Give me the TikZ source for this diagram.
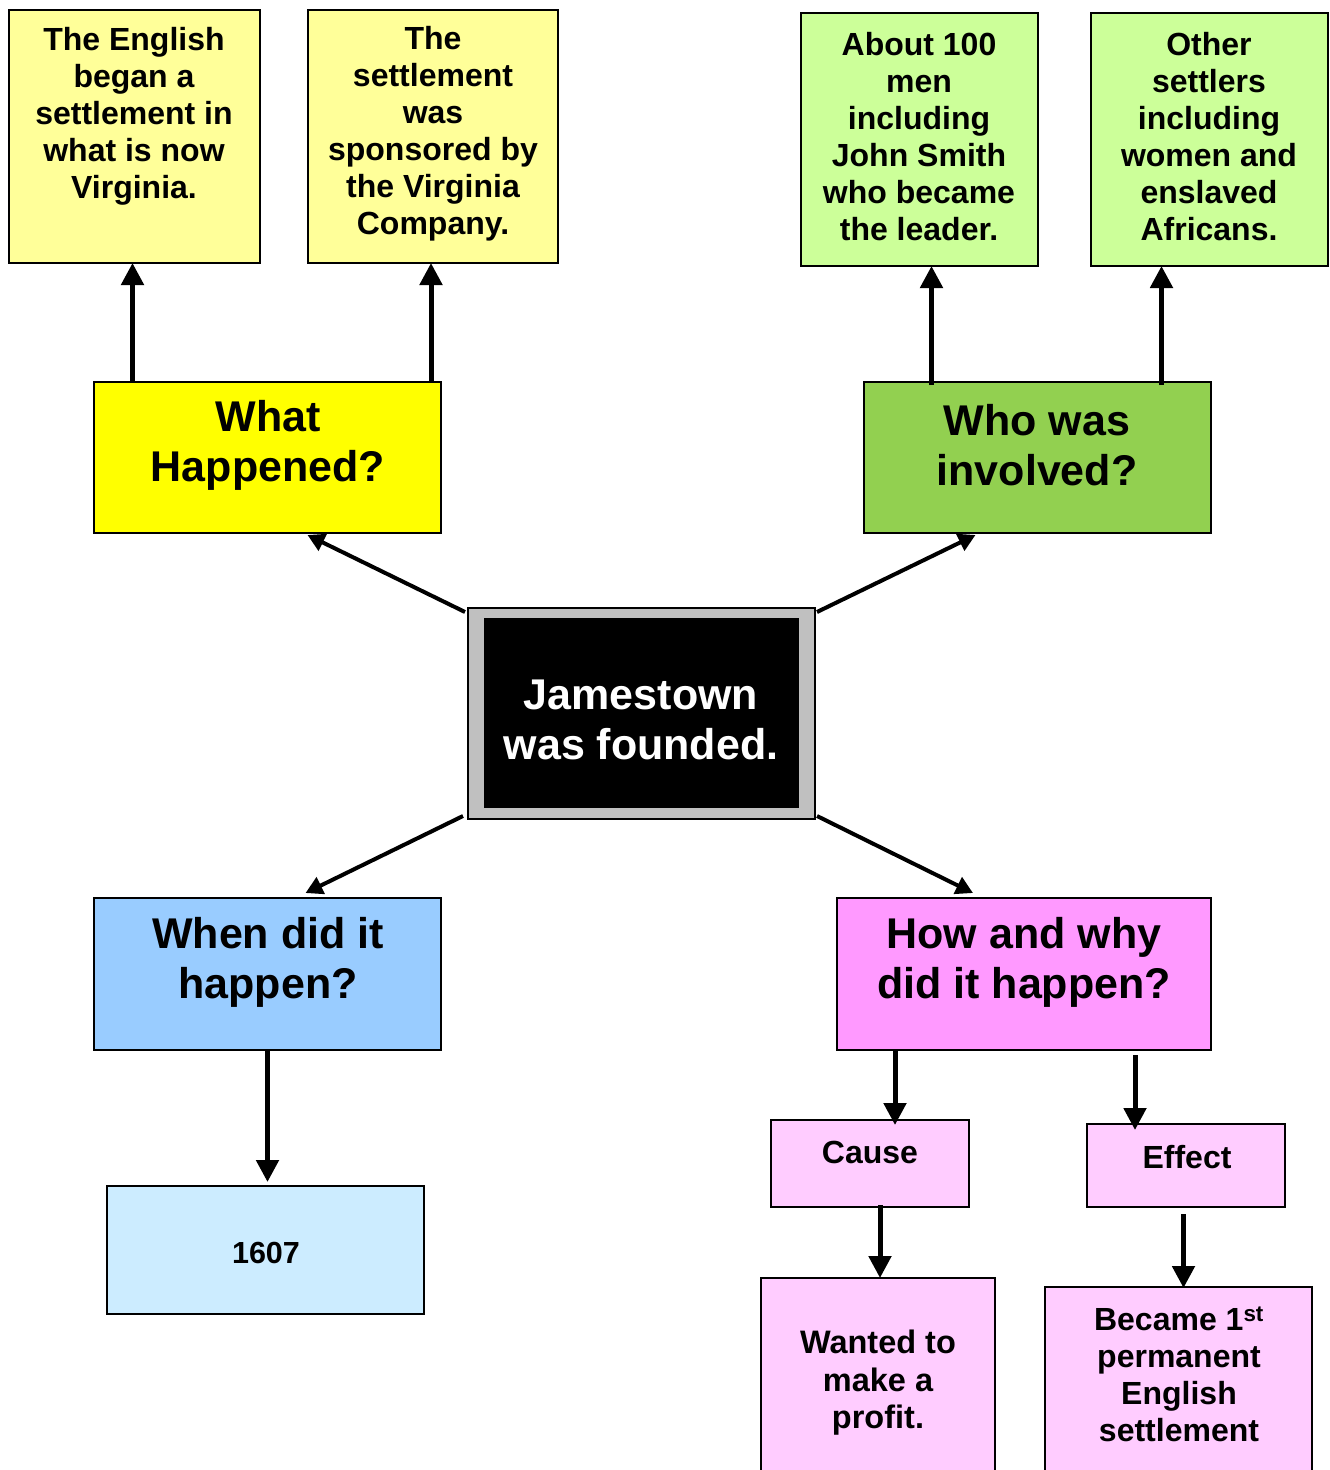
\documentclass[tikz,border=0pt]{standalone}
\usepackage{fontspec}
\setmainfont{Liberation Sans}
\usetikzlibrary{arrows.meta,calc}

\definecolor{paleyellow}{HTML}{FFFF99}
\definecolor{brightyellow}{HTML}{FFFF00}
\definecolor{palegreen}{HTML}{CCFF99}
\definecolor{midgreen}{HTML}{92D050}
\definecolor{skyblue}{HTML}{99CCFF}
\definecolor{paleblue}{HTML}{CCECFF}
\definecolor{pink}{HTML}{FF99FF}
\definecolor{palepink}{HTML}{FFCCFF}
\definecolor{framegray}{HTML}{C0C0C0}

\tikzset{
  box/.style={draw=black, line width=1.6pt, inner sep=0pt, outer sep=0pt},
  small/.style={font=\bfseries\fontsize{32}{37}\selectfont, align=center, inner sep=0pt},
  big/.style={font=\bfseries\fontsize{43}{50}\selectfont, align=center, inner sep=0pt},
  uparrow/.style={line width=5pt, -{Triangle[length=22pt,width=22pt]}},
  diag/.style={line width=4pt, -{Triangle[length=17pt,width=18pt]}},
}

% rectangle from corner (x1,y1) to (x2,y2) as a named node
\newcommand{\boxnode}[6]{%
  \path[box,fill=#6] (#2,#3) rectangle (#4,#5);
  \node[inner sep=0pt, outer sep=0pt, minimum width={(#4)-(#2)}, minimum height={(#5)-(#3)}]
    (#1) at ({((#2)+(#4))/2},{((#3)+(#5))/2}) {};}

\begin{document}
\begin{tikzpicture}[x=1pt,y=-1pt]
\useasboundingbox (0,0) rectangle (1330,1470);

% top leaves
\boxnode{a1}{9}{10}{260}{263}{paleyellow}
\boxnode{a2}{308}{10}{558}{263}{paleyellow}
\boxnode{b1}{801}{13}{1038}{266}{palegreen}
\boxnode{b2}{1091}{13}{1328}{266}{palegreen}
\node[small] (a1t) at (134,116) {The English\\began a\\settlement in\\what is now\\Virginia.};
\node[small] (a2t) at (433,134) {The\\settlement\\was\\sponsored by\\the Virginia\\Company.};
\node[small] (b1t) at (919,137) {About 100\\men\\including\\John Smith\\who became\\the leader.};
\node[small] (b2t) at (1209,137) {Other\\settlers\\including\\women and\\enslaved\\Africans.};

% question boxes
\boxnode{what}{94}{382}{441}{533}{brightyellow}
\boxnode{who}{864}{382}{1211}{533}{midgreen}
\boxnode{when}{94}{898}{441}{1050}{skyblue}
\boxnode{how}{837}{898}{1211}{1050}{pink}
\node[big] (whatt) at (268,445) {What\\Happened?};
\node[big] (whot) at (1037,445) {Who was\\involved?};
\node[big] (whent) at (268,962) {When did it\\happen?};
\node[big] (howt) at (1024,962) {How and why\\did it happen?};

% central topic
\boxnode{centre}{468}{608}{815}{819}{framegray}
\fill[black] (484,618) rectangle (799,808);
\node[big, text=white] (centret) at (641,720) {Jamestown\\was founded.};

% lower boxes
\boxnode{year}{107}{1186}{424}{1314}{paleblue}
\node[small, font=\bfseries\fontsize{30.5}{34}\selectfont] (yeart) at (266,1253) {1607};
\boxnode{cause}{771}{1120}{969}{1207}{palepink}
\boxnode{effect}{1087}{1124}{1285}{1207}{palepink}
\node[small] (causet) at (870,1152) {Cause};
\node[small] (effectt) at (1187,1157) {Effect};
\boxnode{profit}{761}{1278}{995}{1480}{palepink}
\boxnode{perm}{1045}{1287}{1312}{1480}{palepink}
\node[small, font=\bfseries\fontsize{32.5}{37.5}\selectfont] (profitt) at (878,1383) {Wanted to\\make a\\profit.};
\node[small] (permt) at (1179,1374) {Became 1\textsuperscript{st}\\permanent\\English\\settlement};

% connectors: leaves above the questions
\draw[uparrow] ([xshift=-2]a1.south |- what.north) -- ([xshift=-2]a1.south);
\draw[uparrow] ([xshift=-2]a2.south |- what.north) -- ([xshift=-2]a2.south);
\draw[uparrow] ([xshift=12,yshift=-3]b1.south |- who.north) -- ([xshift=12]b1.south);
\draw[uparrow] ([xshift=-48,yshift=-3]b2.south |- who.north) -- ([xshift=-48]b2.south);

% connectors: centre to the four questions
\draw[diag] ([shift={(-3,4)}]centre.north west) -- ([shift={(40,2)}]what.south);
\draw[diag] ([shift={(2,4)}]centre.north east) -- ([shift={(-62,2)}]who.south);
\draw[diag] ([shift={(-5,-3)}]centre.south west) -- ([shift={(38,-5)}]when.north);
\draw[diag] ([shift={(2,-3)}]centre.south east) -- ([shift={(-51,-5)}]how.north);

% connectors: lower chains
\coordinate (yearin) at ([yshift=4]year.north -| when.south);
\draw[uparrow] (when.south) -- (yearin);
\coordinate (causeout) at ([xshift=25]cause.north |- how.south);
\draw[uparrow] (causeout) -- ([xshift=25,yshift=-5]cause.north);
\coordinate (effectout) at ([xshift=-51,yshift=-5]effect.north |- how.south);
\draw[uparrow] (effectout) -- ([xshift=-51,yshift=-6]effect.north);
\coordinate (profitin) at ([xshift=2]profit.north);
\draw[uparrow] ([yshift=2]profitin |- cause.south) -- (profitin);
\coordinate (permin) at ([xshift=5,yshift=-1]perm.north);
\draw[uparrow] ([yshift=-7]permin |- effect.south) -- (permin);
\end{tikzpicture}
\end{document}
